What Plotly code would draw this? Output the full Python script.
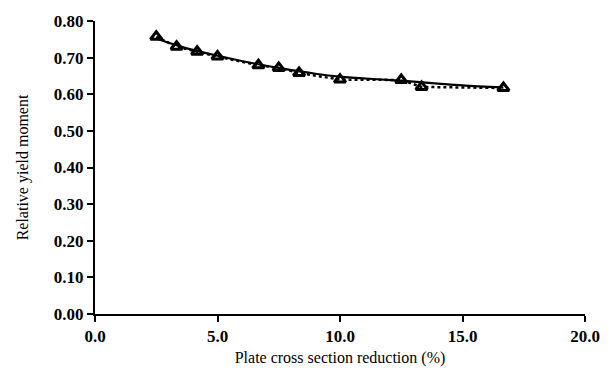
import plotly.graph_objects as go

# Data
reduction = [2.5, 3.33, 4.17, 5.0, 6.67, 7.5, 8.33, 10.0, 12.5, 13.33, 16.67]
rel_moment = [0.757, 0.730, 0.716, 0.703, 0.679, 0.672, 0.658, 0.640, 0.639, 0.620, 0.617]

# Smooth trend curve
fit_x = [2.5, 3.5, 5.0, 6.5, 7.5, 9.0, 10.0, 11.5, 12.5, 14.0, 15.0, 16.67]
fit_y = [0.752, 0.730, 0.705, 0.684, 0.672, 0.656, 0.648, 0.641, 0.637, 0.629, 0.624, 0.618]

x_ticks = [0, 5, 10, 15, 20]
x_ticklabels = ["0.0", "5.0", "10.0", "15.0", "20.0"]
y_ticks = [0, 0.1, 0.2, 0.3, 0.4, 0.5, 0.6, 0.7, 0.8]
y_ticklabels = ["0.00", "0.10", "0.20", "0.30", "0.40", "0.50", "0.60", "0.70", "0.80"]

fig = go.Figure()
fig.add_trace(go.Scatter(
    x=reduction, y=rel_moment, mode="lines+markers",
    line=dict(color="black", width=2.5, dash="dot"),
    marker=dict(symbol="triangle-up-open", size=10, color="black",
                line=dict(color="black", width=3)),
    showlegend=False,
))
fig.add_trace(go.Scatter(
    x=fit_x, y=fit_y, mode="lines",
    line=dict(color="black", width=2.2, shape="spline"),
    showlegend=False,
))

font_family = "Liberation Serif, Times New Roman, serif"
fig.update_layout(
    width=612, height=377,
    margin=dict(l=95.4, r=27.4, t=15, b=62.7),
    plot_bgcolor="white", paper_bgcolor="white",
    font=dict(family=font_family, color="black"),
)
fig.update_xaxes(
    range=[0, 20], tickvals=x_ticks, ticktext=x_ticklabels,
    showline=True, linecolor="black", linewidth=2,
    ticks="outside", ticklen=6, tickwidth=2, tickcolor="black",
    showgrid=False, zeroline=False,
    tickfont=dict(family=font_family, size=17, color="black", weight="bold"),
    title=dict(text="Plate cross section reduction (%)",
               font=dict(family=font_family, size=16, color="black"), standoff=6),
)
fig.update_yaxes(
    range=[0, 0.8], tickvals=y_ticks, ticktext=y_ticklabels,
    showline=True, linecolor="black", linewidth=2,
    ticks="outside", ticklen=6, tickwidth=2, tickcolor="black",
    showgrid=False, zeroline=False,
    tickfont=dict(family=font_family, size=17, color="black", weight="bold"),
    title=dict(text="Relative yield moment",
               font=dict(family=font_family, size=16, color="black"), standoff=21),
)

fig.write_html("out.html")
